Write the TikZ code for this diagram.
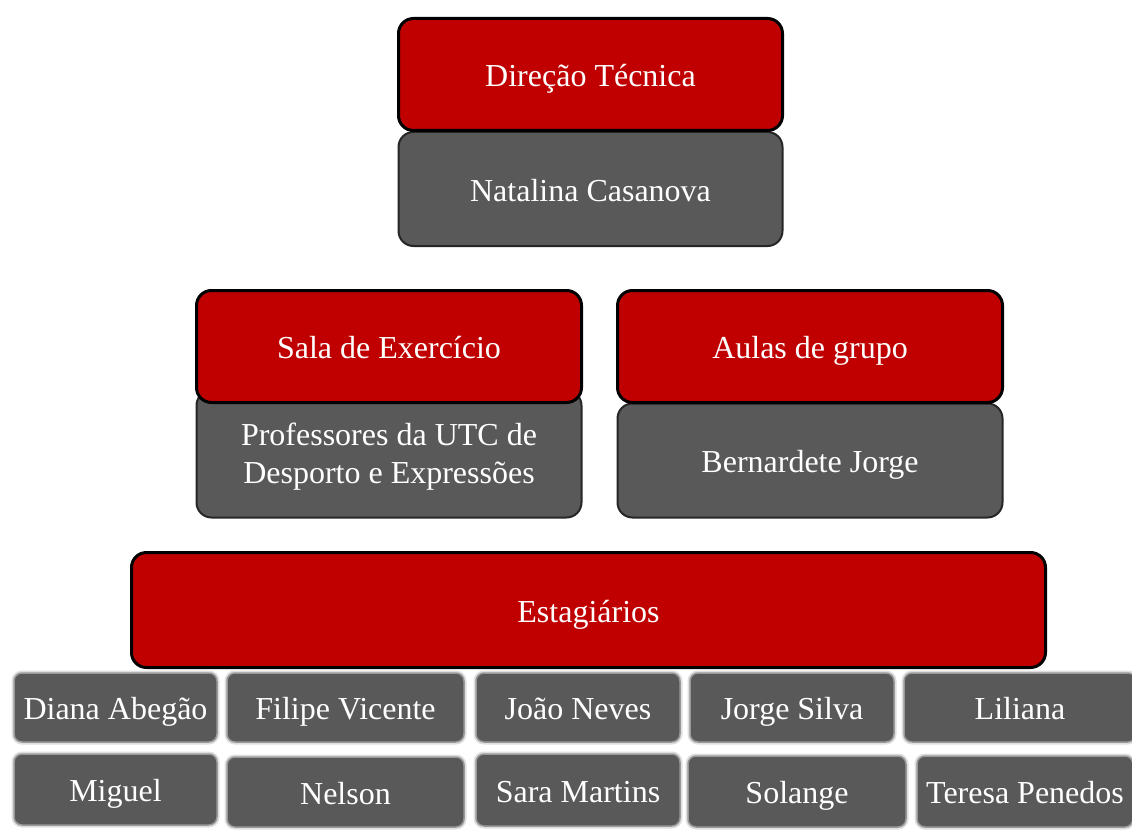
\documentclass[tikz,border=0pt]{standalone}
\usepackage{fontspec}
\setmainfont{Liberation Serif}
\usepackage{tikz}
\definecolor{boxred}{HTML}{C00000}
\definecolor{boxgrey}{HTML}{595959}

\begin{document}
\begin{tikzpicture}[x=1pt,y=-1pt,
	boxtext/.style={text=white,inner sep=0,text height=27,text depth=3,font=\fontsize{32}{38}\selectfont},
	redbox/.style={boxtext,shape=rectangle,rounded corners=15,fill=boxred,draw=black,line width=3},
	greybox/.style={boxtext,shape=rectangle,rounded corners=15,fill=boxgrey,draw=black!85,line width=2,align=center},
	namebox/.style={boxtext,shape=rectangle,rounded corners=8,fill=boxgrey,draw=gray!80,line width=1.5,
		preaction={draw=gray!25,line width=5}}]
			\useasboundingbox (0,0) rectangle (1132,832);
			\clip (0,0) rectangle (1132,832);
			
			% direcao
			\node[greybox,minimum width=384,minimum height=114] (N) at (590.5,189) {Natalina Casanova};
			\node[redbox,minimum width=384,minimum height=112] (D) at (590.5,74.5) {Dire\c{c}\~ao T\'ecnica};
			
			% sala e aulas
			\node[greybox,minimum width=385,minimum height=127,text height=62] (P) at (389,454) {Professores da UTC de\\Desporto e Express\~oes};
			\node[redbox,minimum width=385,minimum height=112] (S) at (389,346.5) {Sala de Exerc\'icio};
			\node[greybox,minimum width=385,minimum height=114] (B) at (810,460.5) {Bernardete Jorge};
			\node[redbox,minimum width=385,minimum height=112] (A) at (810,346.5) {Aulas de grupo};
			
			% estagiarios
			\node[redbox,minimum width=914,minimum height=115] (E) at (588.5,610) {Estagi\'arios};
			
			\node[namebox,minimum width=203,minimum height=69] (E1) at (115.5,707.5) {Diana Abeg\~ao};
			\node[namebox,minimum width=237,minimum height=69] (E2) at (345.5,707.5) {Filipe Vicente};
			\node[namebox,minimum width=204,minimum height=69] (E3) at (578,707.5) {Jo\~ao Neves};
			\node[namebox,minimum width=204,minimum height=69] (E4) at (792,707.5) {Jorge Silva};
			\node[namebox,minimum width=232,minimum height=69] (E5) at (1020,707.5) {Liliana};
			\node[namebox,minimum width=203,minimum height=71] (E6) at (115.5,789.5) {Miguel};
			\node[namebox,minimum width=237,minimum height=70] (E7) at (345.5,792) {Nelson};
			\node[namebox,minimum width=204,minimum height=72] (E8) at (578,790) {Sara Martins};
			\node[namebox,minimum width=218,minimum height=71] (E9) at (797,791.5) {Solange};
			\node[namebox,minimum width=216,minimum height=71] (E10) at (1025,791.5) {Teresa Penedos};
			\end{tikzpicture}
\end{document}
